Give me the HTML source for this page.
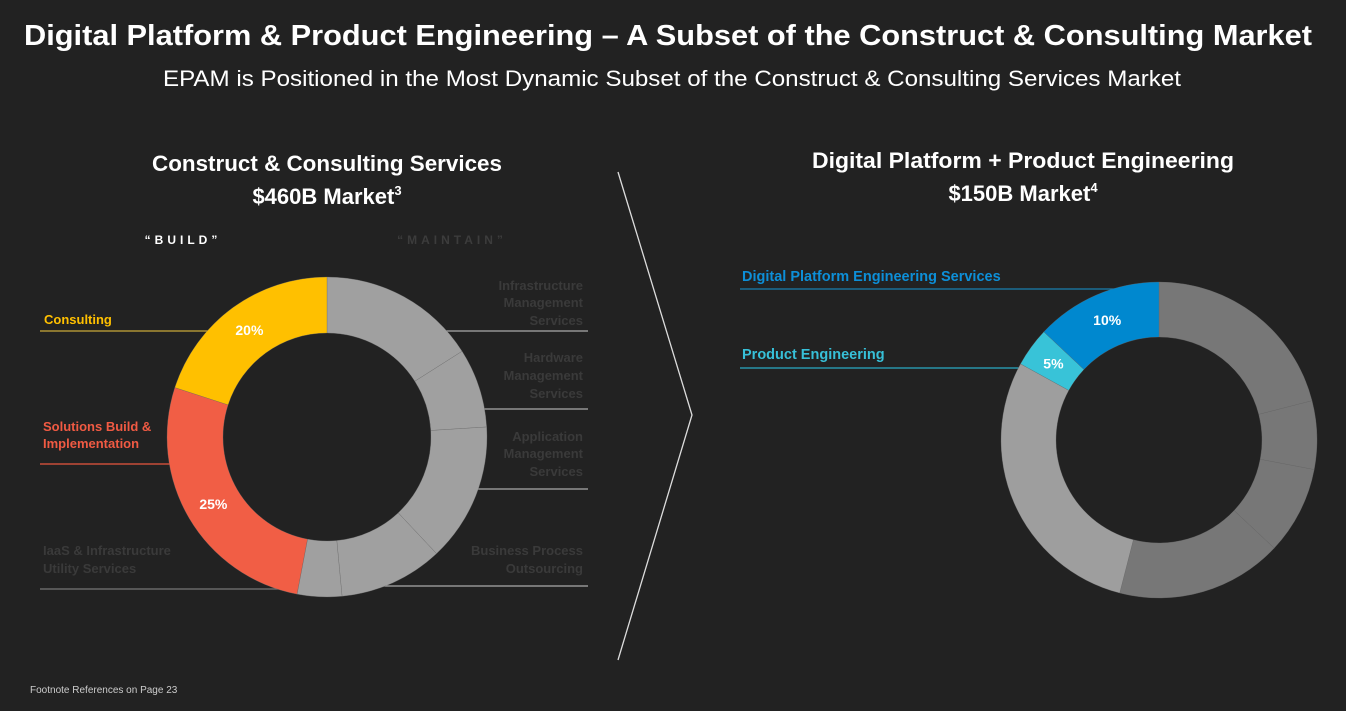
<!DOCTYPE html>
<html><head><meta charset="utf-8"><style>
html,body{margin:0;padding:0;background:#222222;}
svg{display:block;font-family:"Liberation Sans",sans-serif;}
</style></head><body>
<svg id="s" width="1346" height="711" viewBox="0 0 1346 711">
<rect width="1346" height="711" fill="#222222"/>
<text x="668" y="45" text-anchor="middle" fill="#fff" font-size="29" font-weight="bold" textLength="1288" lengthAdjust="spacingAndGlyphs">Digital Platform &amp; Product Engineering – A Subset of the Construct &amp; Consulting Market</text>
<text x="672" y="86" text-anchor="middle" fill="#fff" font-size="22" textLength="1018" lengthAdjust="spacingAndGlyphs">EPAM is Positioned in the Most Dynamic Subset of the Construct &amp; Consulting Services Market</text>

<text x="327" y="171" text-anchor="middle" fill="#fff" font-size="22" font-weight="bold" textLength="350" lengthAdjust="spacingAndGlyphs">Construct &amp; Consulting Services</text>
<text x="327" y="204" text-anchor="middle" fill="#fff" font-size="22" font-weight="bold">$460B Market<tspan font-size="13" dy="-9">3</tspan></text>
<text x="1023" y="168" text-anchor="middle" fill="#fff" font-size="22" font-weight="bold" textLength="422" lengthAdjust="spacingAndGlyphs">Digital Platform + Product Engineering</text>
<text x="1023" y="201" text-anchor="middle" fill="#fff" font-size="22" font-weight="bold">$150B Market<tspan font-size="13" dy="-9">4</tspan></text>

<text x="183" y="244" text-anchor="middle" fill="#fff" font-size="12" font-weight="bold" letter-spacing="4">“BUILD”</text>
<text x="452" y="244" text-anchor="middle" fill="#3c3c3c" font-size="12" font-weight="bold" letter-spacing="4">“MAINTAIN”</text>

<polyline points="618,172 692,415 618,660" fill="none" stroke="#ddd" stroke-width="1.3"/>

<g id="lines">
<line x1="40" y1="331" x2="240" y2="331" stroke="#c9a83a" stroke-width="1.2"/>
<line x1="40" y1="464" x2="190" y2="464" stroke="#e8553e" stroke-width="1.2"/>
<line x1="40" y1="589" x2="310" y2="589" stroke="#777" stroke-width="1.2"/>
<line x1="420" y1="331" x2="588" y2="331" stroke="#aaa" stroke-width="1.2"/>
<line x1="460" y1="409" x2="588" y2="409" stroke="#aaa" stroke-width="1.2"/>
<line x1="460" y1="489" x2="588" y2="489" stroke="#aaa" stroke-width="1.2"/>
<line x1="380" y1="586" x2="588" y2="586" stroke="#aaa" stroke-width="1.2"/>
<line x1="740" y1="289" x2="1159" y2="289" stroke="#1a7fb0" stroke-width="1.2"/>
<line x1="740" y1="368" x2="1040" y2="368" stroke="#2aaac4" stroke-width="1.2"/>
</g>
<g id="left-donut"></g>
<g id="right-donut"></g>

<g font-size="13" font-weight="bold">
<text x="44" y="324" fill="#ffc000">Consulting</text>
<text x="43" y="431" fill="#f05a43">Solutions Build &amp;</text>
<text x="43" y="448" fill="#f05a43">Implementation</text>
<text x="43" y="555" fill="#3a3a3a">IaaS &amp; Infrastructure</text>
<text x="43" y="573" fill="#3a3a3a">Utility Services</text>
<g text-anchor="end" fill="#3a3a3a">
<text x="583" y="290">Infrastructure</text>
<text x="583" y="307">Management</text>
<text x="583" y="325">Services</text>
<text x="583" y="362">Hardware</text>
<text x="583" y="380">Management</text>
<text x="583" y="398">Services</text>
<text x="583" y="441">Application</text>
<text x="583" y="458">Management</text>
<text x="583" y="476">Services</text>
<text x="583" y="555">Business Process</text>
<text x="583" y="573">Outsourcing</text>
</g>
<text x="742" y="281" fill="#0d8fd8" font-size="14.5">Digital Platform Engineering Services</text>
<text x="742" y="359" fill="#37c0d8" font-size="14.5">Product Engineering</text>
</g>
<text x="30" y="693" fill="#ccc" font-size="10">Footnote References on Page 23</text>
</svg>
<script>
const leftCategories = ["Infrastructure Management","Hardware Management","Application Management","Business Process Outsourcing","IaaS & Infrastructure","Solutions Build & Implementation","Consulting"];
const leftValues = [16, 8, 14, 10.5, 4.5, 27, 20];
const leftLabels = ["", "", "", "", "", "25%", "20%"];
const leftColors = ["#a0a0a0","#a0a0a0","#a0a0a0","#a0a0a0","#a0a0a0","#f15e45","#ffc000"];
const rightCategories = ["Other A","Other B","Other C","Other D","Other E","Product Engineering","Digital Platform Engineering Services"];
const rightValues = [21, 7, 9, 17, 29, 4, 13];
const rightLabels = ["", "", "", "", "", "5%", "10%"];
const rightColors = ["#777777","#777777","#777777","#777777","#9e9e9e","#38c3d8","#0088cf"];

const NS = "http://www.w3.org/2000/svg";
function pt(cx, cy, r, a){ const t = a*Math.PI/180; return [cx + r*Math.sin(t), cy - r*Math.cos(t)]; }
function donut(gid, cats, vals, labs, cols, cx, cy, R, r){
  const g = document.getElementById(gid);
  const total = vals.reduce((a,b)=>a+b,0);
  let acc = 0;
  vals.forEach((v,i)=>{
    const a0 = acc/total*360, a1 = (acc+v)/total*360; acc += v;
    const large = (a1-a0) > 180 ? 1 : 0;
    const p1 = pt(cx,cy,R,a0), p2 = pt(cx,cy,R,a1), p3 = pt(cx,cy,r,a1), p4 = pt(cx,cy,r,a0);
    const p = document.createElementNS(NS,"path");
    p.setAttribute("d", `M${p1} A${R},${R} 0 ${large} 1 ${p2} L${p3} A${r},${r} 0 ${large} 0 ${p4} Z`);
    p.setAttribute("fill", cols[i]);
    p.setAttribute("stroke", "#686868");
    p.setAttribute("stroke-width", "0.3");
    
    
    g.appendChild(p);
    if (labs[i]) {
      const m = pt(cx, cy, (R+r)/2, (a0+a1)/2);
      const t = document.createElementNS(NS,"text");
      t.setAttribute("x", m[0]); t.setAttribute("y", m[1]+5);
      t.setAttribute("text-anchor","middle"); t.setAttribute("fill","#fff");
      t.setAttribute("font-size","14"); t.setAttribute("font-weight","bold");
      t.textContent = labs[i];
      
      
      g.appendChild(t);
    }
  });
}
donut("left-donut", leftCategories, leftValues, leftLabels, leftColors, 327, 437, 160, 104);
donut("right-donut", rightCategories, rightValues, rightLabels, rightColors, 1159, 440, 158, 103);
</script>
</body></html>
